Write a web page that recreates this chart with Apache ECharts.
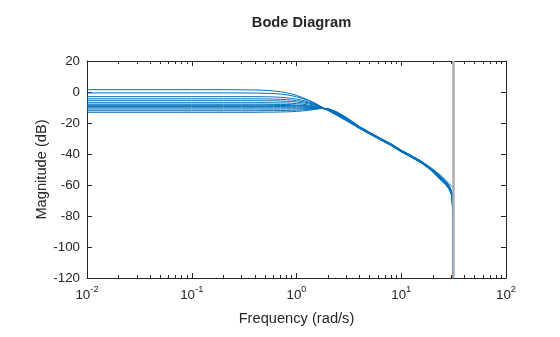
<!DOCTYPE html>
<html>
<head>
<meta charset="utf-8">
<script src="https://cdn.jsdelivr.net/npm/echarts@6/dist/echarts.min.js"></script>
<style>html,body{margin:0;padding:0;background:#fff}#c{width:560px;height:337px}</style>
</head>
<body>
<div id="c"></div>
<script>
// Frequencies (rad/s) at which magnitudes were read
const freq = [0.01, 0.1, 0.2, 0.3, 0.4, 0.5, 0.6, 0.7, 0.8, 0.9, 1.0, 1.15, 1.3, 1.5, 1.7, 2.0, 2.4, 3, 4, 5, 6.5, 8, 10, 12.5, 15.5, 19, 23.5, 26.5, 28.5, 29.6, 30.5, 31.1, 31.4];

// Magnitude (dB) of each sampled response
const magA = [1.5, 1.5, 1.5, 1.4, 1.3, 1.1, 0.7, 0.2, -0.5, -1.3, -2.2, -3.7, -5.2, -7.2, -9.3, -11.9, -14.9, -18.6, -23.6, -27.2, -31.4, -34.6, -38.7, -42.2, -45.8, -50.2, -56.5, -59.8, -62.6, -64.8, -68, -82, -140];
const magB = [-0.6, -0.6, -0.6, -0.6, -0.7, -0.8, -1.0, -1.3, -1.8, -2.4, -3.1, -4.3, -5.6, -7.4, -9.3, -11.8, -14.7, -18.4, -23.4, -27.0, -31.2, -34.4, -38.5, -42.0, -45.6, -50.0, -56.2, -59.5, -62.3, -64.5, -67.5, -79, -140];
const magC = [-3.0, -3.0, -3.0, -3.0, -3.0, -3.1, -3.2, -3.4, -3.7, -4.1, -4.6, -5.4, -6.4, -7.8, -9.5, -11.7, -14.5, -18.2, -23.3, -26.9, -31.1, -34.3, -38.4, -41.9, -45.5, -49.8, -56.0, -59.3, -62.0, -64.2, -67.2, -78, -140];
const magD = [-4.4, -4.4, -4.4, -4.4, -4.4, -4.5, -4.6, -4.7, -4.9, -5.2, -5.6, -6.2, -7.0, -8.2, -9.6, -11.6, -14.3, -18.0, -23.2, -26.8, -31.0, -34.2, -38.3, -41.8, -45.4, -49.7, -55.8, -59.1, -61.8, -64.0, -67.0, -77, -140];
const magE = [-5.6, -5.6, -5.6, -5.6, -5.6, -5.7, -5.7, -5.8, -6.0, -6.2, -6.5, -7.0, -7.6, -8.6, -9.8, -11.6, -14.2, -17.8, -23.1, -26.7, -30.9, -34.1, -38.2, -41.7, -45.3, -49.6, -55.6, -58.9, -61.6, -63.8, -66.8, -76, -140];
const magF = [-6.9, -6.9, -6.9, -6.9, -6.9, -6.9, -7.0, -7.0, -7.1, -7.3, -7.5, -7.9, -8.4, -9.1, -10.0, -11.6, -14.0, -17.6, -22.9, -26.5, -30.6, -33.8, -37.8, -41.2, -44.6, -48.6, -53.4, -56.8, -59.0, -60.1, -61.0, -61.6, -61.8];
const magG = [-7.9, -7.9, -7.9, -7.9, -7.9, -7.9, -8.0, -8.0, -8.1, -8.2, -8.4, -8.7, -9.0, -9.6, -10.2, -11.5, -13.9, -17.5, -22.9, -26.6, -30.8, -34.0, -38.1, -41.6, -45.2, -49.5, -55.4, -58.7, -61.4, -63.6, -66.5, -75, -140];
const magH = [-8.6, -8.6, -8.6, -8.6, -8.6, -8.6, -8.6, -8.7, -8.7, -8.8, -8.9, -9.1, -9.4, -9.8, -10.3, -11.4, -13.8, -17.4, -22.8, -26.5, -30.7, -33.9, -38.0, -41.5, -45.1, -49.4, -55.2, -58.5, -61.2, -63.4, -66.3, -74, -140];
const magI = [-9.4, -9.4, -9.4, -9.4, -9.4, -9.4, -9.4, -9.4, -9.4, -9.5, -9.5, -9.6, -9.8, -10.0, -10.4, -11.3, -13.6, -17.2, -22.7, -26.4, -30.6, -33.8, -37.9, -41.4, -45.0, -49.3, -55.0, -58.3, -61.0, -63.2, -66.0, -73, -140];
const magJ = [-10.2, -10.2, -10.2, -10.2, -10.2, -10.2, -10.2, -10.2, -10.2, -10.2, -10.2, -10.2, -10.2, -10.3, -10.4, -11.2, -13.4, -17.0, -22.6, -26.3, -30.5, -33.7, -37.8, -41.3, -44.9, -49.2, -54.8, -58.1, -60.8, -63.0, -65.8, -72, -140];
const magK = [-11.0, -11.0, -11.0, -11.0, -11.0, -11.0, -11.0, -11.0, -10.9, -10.9, -10.9, -10.8, -10.7, -10.6, -10.5, -11.0, -13.2, -16.8, -22.5, -26.2, -30.4, -33.6, -37.7, -41.2, -44.8, -49.1, -54.6, -57.9, -60.6, -62.8, -65.6, -71, -140];
const magL = [-12.1, -12.1, -12.1, -12.1, -12.1, -12.0, -12.0, -12.0, -11.9, -11.8, -11.7, -11.5, -11.3, -11.0, -10.6, -10.8, -12.9, -16.6, -22.4, -26.1, -30.3, -33.5, -37.6, -41.1, -44.7, -49.0, -54.4, -57.7, -60.4, -62.6, -65.4, -70, -140];
const magM = [-13.1, -13.1, -13.1, -13.1, -13.1, -13.0, -13.0, -12.9, -12.8, -12.7, -12.5, -12.2, -11.8, -11.2, -10.6, -10.6, -12.6, -16.4, -22.3, -26.0, -30.2, -33.4, -37.5, -41.0, -44.6, -48.9, -54.2, -57.5, -60.2, -62.4, -65.2, -69, -140];

const responses = [magA, magB, magC, magD, magE, magF, magG, magH, magI, magJ, magK, magL, magM];

// Nyquist frequency (rad/s)
const nyquist = [31.4159];

// Axis ticks
const xMajorTicks = [0.01, 0.1, 1, 10, 100];
const xMinorTicks = [0.02,0.03,0.04,0.05,0.06,0.07,0.08,0.09, 0.2,0.3,0.4,0.5,0.6,0.7,0.8,0.9, 2,3,4,5,6,7,8,9, 20,30,40,50,60,70,80,90];

const FONT = '"Liberation Sans", Arial, Helvetica, sans-serif';
const TXT = '#262626';

const chart = echarts.init(document.getElementById('c'), null, {renderer: 'canvas'});

function xAxisDef(pos, ticks, len, showLine, showLabel) {
  return {
    type: 'log', logBase: 10, min: 0.01, max: 100, position: pos, gridIndex: 0,
    axisLine: {show: showLine, onZero: false, lineStyle: {color: TXT, width: 1}},
    axisTick: {show: true, inside: true, length: len, customValues: ticks, lineStyle: {color: TXT, width: 1}},
    axisLabel: showLabel ? {
      show: true, customValues: xMajorTicks, margin: 7, fontFamily: FONT,
      formatter: function (v) {
        const e = Math.round(Math.log10(v));
        return '{b|10}{s|' + e + '}';
      },
      rich: {
        b: {fontSize: 13.33, color: TXT, fontFamily: FONT, lineHeight: 17, verticalAlign: 'bottom'},
        s: {fontSize: 9.3, color: TXT, fontFamily: FONT, lineHeight: 17, verticalAlign: 'top'}
      }
    } : {show: false},
    splitLine: {show: false},
    minorTick: {show: false},
    silent: true
  };
}

const xAxes = [
  Object.assign(xAxisDef('bottom', xMajorTicks, 5, true, true), {
    name: 'Frequency (rad/s)', nameLocation: 'middle', nameGap: 33, nameMoveOverlap: false,
    nameTextStyle: {fontSize: 14.67, color: TXT, fontFamily: FONT, verticalAlign: 'top'}
  }),
  xAxisDef('bottom', xMinorTicks, 3, false, false),
  xAxisDef('top', xMajorTicks, 5, true, false),
  xAxisDef('top', xMinorTicks, 3, false, false)
];

function yAxisDef(pos, showLabel) {
  return {
    type: 'value', min: -120, max: 20, interval: 20, position: pos, gridIndex: 0,
    axisLine: {show: true, onZero: false, lineStyle: {color: TXT, width: 1}},
    axisTick: {show: true, inside: true, length: 5, lineStyle: {color: TXT}},
    axisLabel: showLabel ? {show: true, margin: 7, fontSize: 13.33, color: TXT, fontFamily: FONT} : {show: false},
    splitLine: {show: false}
  };
}

const yAxes = [
  Object.assign(yAxisDef('left', true), {
    name: 'Magnitude (dB)', nameLocation: 'middle', nameGap: 38, nameMoveOverlap: false,
    nameTextStyle: {fontSize: 14.67, color: TXT, fontFamily: FONT}
  }),
  yAxisDef('right', false)
];

const series = responses.map(function (mag) {
  return {
    type: 'line', xAxisIndex: 0, yAxisIndex: 0,
    data: freq.map(function (f, i) { return [f, mag[i]]; }),
    showSymbol: false, symbol: 'none',
    lineStyle: {color: '#0072BD', width: 1},
    clip: true, silent: true, animation: false, z: 2
  };
});

series.push({
  type: 'line', xAxisIndex: 0, yAxisIndex: 0, data: [], z: 5, silent: true, animation: false,
  markLine: {
    silent: true, symbol: ['none', 'none'], animation: false,
    label: {show: false},
    lineStyle: {color: '#ADADAD', width: 2.5, type: 'solid', opacity: 1},
    data: nyquist.map(function (v) { return {xAxis: v}; })
  }
});

chart.setOption({
  animation: false,
  backgroundColor: '#ffffff',
  title: {
    text: 'Bode Diagram', left: 296.5, top: 10, textAlign: 'center',
    textStyle: {fontSize: 14.67, fontWeight: 'bold', color: TXT, fontFamily: FONT}
  },
  grid: {left: 87, top: 61, width: 419, height: 217, containLabel: false},
  xAxis: xAxes,
  yAxis: yAxes,
  series: series
});
</script>
</body>
</html>
